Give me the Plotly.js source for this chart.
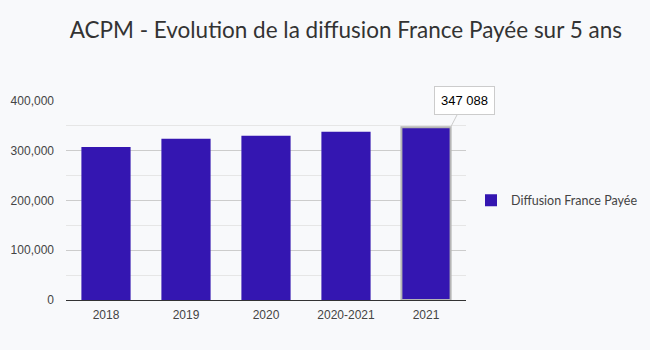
<!DOCTYPE html>
<html>
<head>
<meta charset="utf-8">
<script src="https://cdn.plot.ly/plotly-3.0.1.min.js"></script>
<style>html,body{margin:0;padding:0;background:#f8f9fb;}#chart{width:650px;height:350px;}</style>
</head>
<body>
<div id="chart"></div>
<script>
var categories = ["2018", "2019", "2020", "2020-2021", "2021"];
var values = [307500, 324000, 330000, 338000, 347088];
var seriesName = "Diffusion France Payée";
var chartTitle = "ACPM - Evolution de la diffusion France Payée sur 5 ans";

var barGap = 0.385;
var lastIdx = values.length - 1;
function fmtSpace(v){ return String(v).replace(/\B(?=(\d{3})+(?!\d))/g, " "); }

var lineColors = values.map(function(v,i){ return i === lastIdx ? "#b5b5b5" : "rgba(0,0,0,0)"; });
var lineWidths = values.map(function(v,i){ return i === lastIdx ? 2 : 0; });

var trace = {
  type: "bar",
  x: categories,
  y: values,
  name: seriesName,
  marker: { color: "#3416b1", line: { color: lineColors, width: lineWidths } },
  hoverinfo: "none"
};

var layout = {
  width: 650, height: 350,
  paper_bgcolor: "#f8f9fb",
  plot_bgcolor: "#f8f9fb",
  margin: { l: 66, r: 184, t: 101, b: 50, autoexpand: false },
  bargap: barGap,
  showlegend: true,
  title: {
    text: chartTitle,
    font: { family: "Lato, sans-serif", size: 22.5, color: "#333333" },
    x: 0.532, xanchor: "center", y: 0.915, yanchor: "middle"
  },
  xaxis: {
    type: "category",
    range: [-0.5, categories.length - 0.5],
    showgrid: false,
    showline: true, linecolor: "#333333", linewidth: 1,
    ticks: "",
    ticklabelstandoff: 4,
    tickfont: { family: "Liberation Sans, Arial, sans-serif", size: 12, color: "#444444" },
    fixedrange: true
  },
  yaxis: {
    range: [0, 400000],
    dtick: 100000,
    tickformat: ",",
    gridcolor: "#cccccc", gridwidth: 1,
    zeroline: false,
    ticks: "",
    ticklabelstandoff: 11,
    tickfont: { family: "Liberation Sans, Arial, sans-serif", size: 12, color: "#444444" },
    minor: { dtick: 50000, showgrid: true, gridcolor: "#e6e6e6", gridwidth: 1 },
    fixedrange: true
  },
  legend: {
    x: 1.0125, xanchor: "left", y: 0.5, yanchor: "middle",
    font: { family: "Lato, sans-serif", size: 12.5, color: "#444444" },
    bgcolor: "rgba(0,0,0,0)"
  },
  annotations: [{
    x: lastIdx + (1 - barGap) / 2,
    y: values[lastIdx],
    xref: "x", yref: "y",
    text: fmtSpace(values[lastIdx]),
    showarrow: true, arrowhead: 0, arrowcolor: "#cccccc", arrowwidth: 1,
    ax: 14, ay: -27,
    bgcolor: "#ffffff", bordercolor: "#cccccc", borderwidth: 1, borderpad: 6,
    font: { family: "Liberation Sans, Arial, sans-serif", size: 13, color: "#000000" }
  }]
};

Plotly.newPlot("chart", [trace], layout, { displayModeBar: false, staticPlot: true });
</script>
</body>
</html>
